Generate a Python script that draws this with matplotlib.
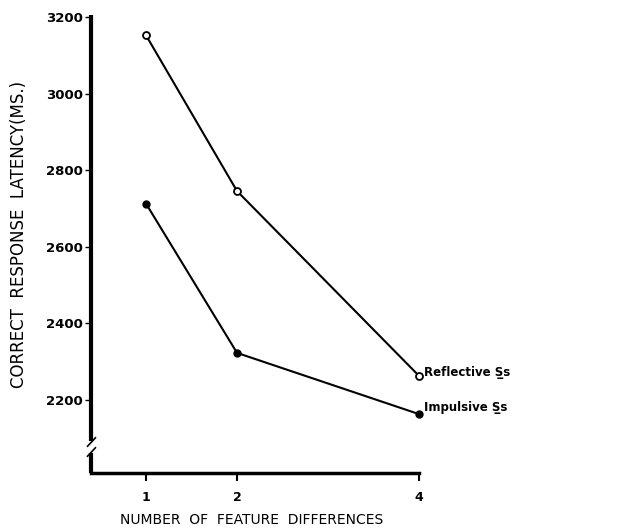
import matplotlib
matplotlib.use("Agg")
import matplotlib.pyplot as plt

# values
features = [1, 2, 4]
reflective = [3152, 2745, 2262]
impulsive = [2712, 2322, 2162]
yticks = [2200, 2400, 2600, 2800, 3000, 3200]
series_labels = ["Reflective S\u0332s", "Impulsive S\u0332s"]

plt.rcParams['font.family'] = ['DejaVu Sans']

fig = plt.figure(figsize=(6.18, 5.3), dpi=100)
ax = fig.add_axes([0.148, 0.1075, 0.530, 0.864])

ax.plot(features, reflective, color='black', lw=1.5, marker='o', ms=5,
        mfc='white', mec='black', mew=1.3, clip_on=False)
ax.plot(features, impulsive, color='black', lw=1.5, marker='o', ms=5,
        mfc='black', mec='black', clip_on=False)

ax.text(4.06, reflective[-1] + 10, series_labels[0], fontsize=8.5, fontweight='bold',
        va='center', ha='left')
ax.text(4.06, impulsive[-1] + 18, series_labels[1], fontsize=8.5, fontweight='bold',
        va='center', ha='left')

ax.set_xlim(0.4, 4.0)
ax.set_ylim(2008, 3205)

# left axis drawn by hand so it can carry the break
ax.spines['left'].set_visible(False)
ax.spines['top'].set_visible(False)
ax.spines['right'].set_visible(False)
ax.spines['bottom'].set_linewidth(2.5)

tr = ax.get_yaxis_transform()
ax.plot([0, 0], [2092, 3205], color='black', lw=3, transform=tr, clip_on=False,
        solid_capstyle='butt')
ax.plot([0, 0], [2008, 2060], color='black', lw=3, transform=tr, clip_on=False,
        solid_capstyle='butt')
ax.plot([-0.012, 0.012], [2078, 2100], color='black', lw=1.2, transform=tr, clip_on=False)
ax.plot([-0.012, 0.012], [2052, 2074], color='black', lw=1.2, transform=tr, clip_on=False)

ax.set_yticks(yticks)
ax.set_yticklabels([str(v) for v in yticks], fontsize=9.5, fontweight='bold')
ax.tick_params(axis='y', direction='out', length=4, width=1, pad=2)

ax.set_xticks(features)
ax.set_xticklabels([str(v) for v in features], fontsize=9, fontweight='bold')
ax.tick_params(axis='x', direction='out', length=6, width=1.5, pad=7)

ax.set_xlabel("NUMBER  OF  FEATURE  DIFFERENCES", fontsize=10)
ax.xaxis.set_label_coords(0.49, -0.087)
ax.set_ylabel("CORRECT  RESPONSE  LATENCY(MS.)", fontsize=12)
ax.yaxis.set_label_coords(-0.195, 0.52)

fig.savefig("out.png", dpi=100)
